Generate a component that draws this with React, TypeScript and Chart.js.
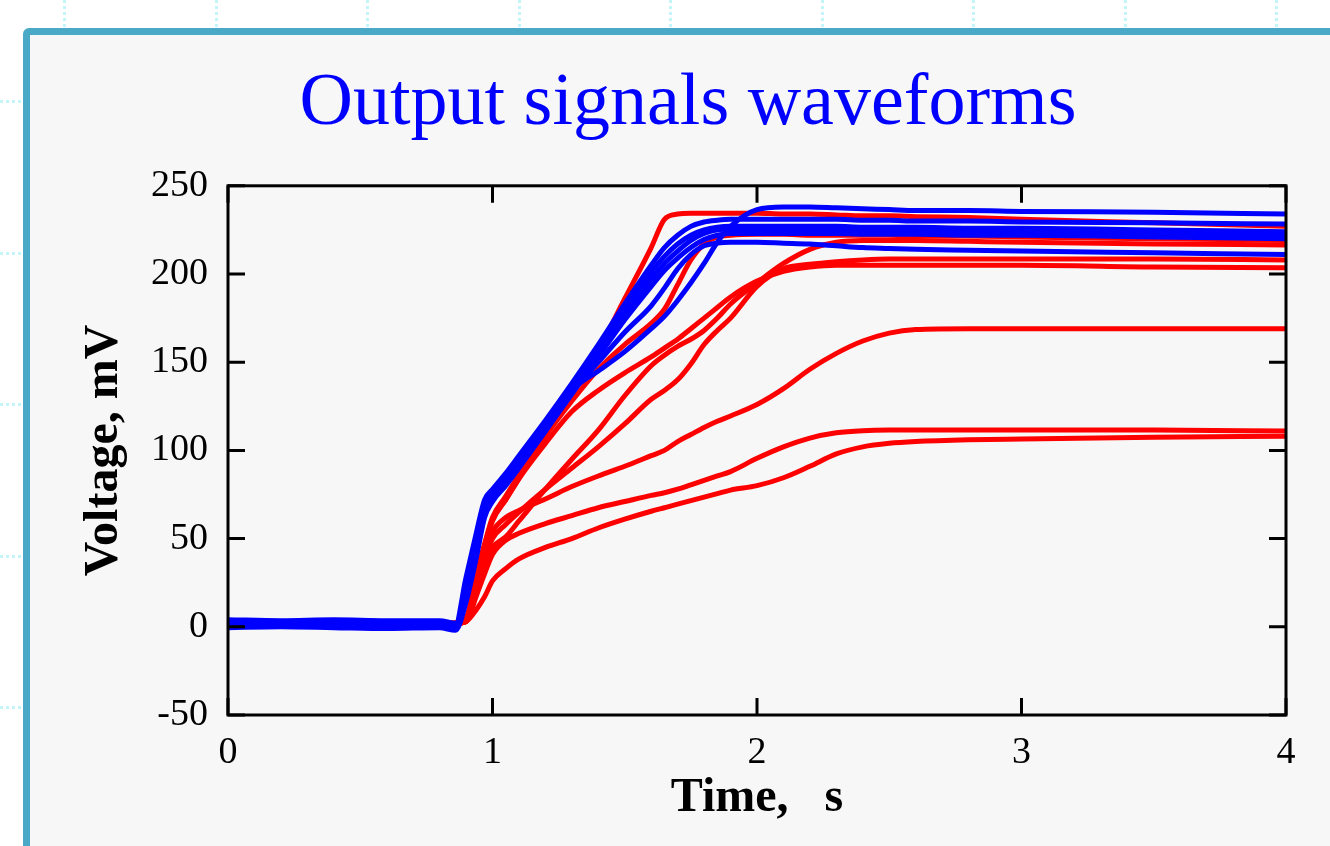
import React, { useEffect, useRef } from 'react';
import { Chart, registerables } from 'chart.js';

Chart.register(...registerables);

// ---- data (time in s, voltage in mV) ----
const timeS = [0, 0.2, 0.4, 0.6, 0.8, 0.86, 0.9, 0.94, 0.97, 1.0, 1.05, 1.1, 1.2, 1.3, 1.4, 1.5, 1.6, 1.65, 1.7, 1.75, 1.8, 1.85, 1.9, 2.0, 2.1, 2.2, 2.3, 2.4, 2.5, 2.6, 2.8, 3.0, 3.5, 4.0];

const xTickValues = [0, 1, 2, 3, 4];
const yTickValues = [-50, 0, 50, 100, 150, 200, 250];

// red series
const red1 = [2, 1.5, 2, 1.5, 2, 2, 5, 30, 47, 62, 74, 86, 110, 133, 157, 186, 215, 231, 234, 234.5, 234.5, 234.5, 234.5, 234.5, 234, 234, 233.5, 233, 233, 232.5, 232, 231, 229, 227];
const red2 = [2, 2, 1.5, 2, 1.5, 2, 4, 28, 45, 60, 72, 84, 108, 128, 146, 160, 172, 180, 194, 208, 217, 221, 222, 222.5, 222.5, 222, 222, 222, 222, 221.5, 221.5, 221, 220, 219];
const red3 = [1.5, 2, 2, 1.5, 2, 2, 4, 28, 46, 61, 72, 84, 104, 122, 134, 144, 153, 158, 163, 169, 175, 181, 187, 196, 201.5, 204, 205, 205, 205, 205, 205, 205, 204, 203.5];
const red4 = [2, 1.5, 2, 2, 1.5, 2, 3, 20, 35, 45, 51, 60, 78, 95, 111.5, 131, 148, 154, 159, 163, 168, 175, 183, 195, 206, 214, 218, 219, 219, 219, 218.5, 218, 217, 216.5];
const red5 = [2, 2, 1.5, 2, 2, 2, 3, 22, 38, 50, 58, 65, 78, 90, 102, 115, 129, 134, 140, 149, 160, 168, 175, 193, 203, 205.5, 207, 208, 208.5, 208.5, 208.5, 208.5, 208.5, 208];
const red6 = [1.5, 2, 2, 2, 1.5, 2, 3, 25, 42, 54, 62, 66, 72.5, 79.5, 85.5, 91, 97, 100, 105, 109, 113, 116.5, 119.5, 126, 135, 146, 155, 162, 166.5, 168.5, 169, 169, 169, 169];
const red7 = [2, 1.5, 1.5, 2, 2, 2, 3, 18, 30, 41, 49, 53, 58.5, 63, 67.5, 71, 74.5, 76, 78, 80.5, 83, 85.5, 88, 95.5, 102, 107, 110, 111.2, 111.5, 111.5, 111.5, 111.5, 111.5, 111];
const red8 = [2, 2, 2, 1.5, 2, 2, 3, 10, 17, 26, 33, 38.5, 45, 50, 56, 61, 65.5, 67.5, 69.5, 71.5, 73.5, 75.5, 77.5, 80, 84.5, 91, 98, 102, 104, 105, 106, 106.5, 107.5, 108];

// blue series
const blue1 = [4, 3.5, 4, 3.5, 3.5, 2, 28, 54, 72, 78, 87, 97, 117, 138, 160, 183, 205, 215, 222, 227, 229.5, 230.5, 231, 231, 231, 231, 231, 230.5, 230.5, 230, 230, 229.5, 229, 228.3];
const blue2 = [1, 1.5, 0.5, 1, 0.5, -1, 19, 45, 66, 74, 83, 93, 114, 135, 157, 180, 201, 210, 217, 222, 225, 226.5, 227, 227, 227, 227, 227, 226.5, 226.5, 226.5, 226, 226, 225, 224];
const blue3 = [2.5, 2, 2.5, 2, 2, 0, 22, 48, 68, 75, 84, 94, 115, 134, 155, 177, 197, 206, 213, 219, 223, 225, 225.5, 225.5, 225.5, 225, 225, 225, 225, 224.5, 224.5, 224, 223, 222];
const blue4 = [-0.5, 0, -0.5, -1, -0.5, -2, 14, 40, 62, 71, 80, 90, 111, 132, 153, 174, 193, 202, 209, 215, 219.5, 222, 223, 223, 223, 223, 223, 222.5, 222.5, 222.5, 222, 222, 221, 220];
const blue5 = [3, 2.5, 3, 2.5, 2, 0.5, 24, 50, 69, 75, 82, 91, 111, 134, 145, 156, 169, 176, 185, 195, 206, 218, 227, 236.5, 238, 238, 237.5, 237, 236.5, 236, 236, 235.5, 235, 234];
const blue6 = [1.5, 1, 1.5, 1, 1.5, -0.5, 18, 44, 65, 73, 82, 92, 112, 133, 150, 167, 182, 192, 203, 211, 216, 217.5, 218, 218, 217.5, 217, 216, 215, 214.5, 214, 213.5, 213, 212, 211];

const blueSeries = [blue1, blue2, blue3, blue4, blue5, blue6];
const redSeries = [red1, red2, red3, red4, red5, red6, red7, red8];

const titleText = 'Output signals waveforms';
const xTitle = 'Time,   s';
const yTitle = 'Voltage, mV';

const SERIF = "'Liberation Serif', 'DejaVu Serif', serif";

const toPoints = (vals: number[]) => timeS.map((t, i) => ({ x: t, y: vals[i] }));

const frameTicks = {
  id: 'frameTicks',
  afterDatasetsDraw(chart: any) {
    const { ctx, chartArea } = chart;
    const { left, right, top, bottom } = chartArea;
    const xs = chart.scales.x;
    const ys = chart.scales.y;
    const L = 17;
    ctx.save();
    ctx.strokeStyle = '#000';
    ctx.lineWidth = 3;
    ctx.lineCap = 'butt';
    ctx.beginPath();
    xs.ticks.forEach((t: any) => {
      const px = xs.getPixelForValue(t.value);
      ctx.moveTo(px, bottom);
      ctx.lineTo(px, bottom - L);
      ctx.moveTo(px, top);
      ctx.lineTo(px, top + L);
    });
    ys.ticks.forEach((t: any) => {
      const py = ys.getPixelForValue(t.value);
      ctx.moveTo(left, py);
      ctx.lineTo(left + L, py);
      ctx.moveTo(right, py);
      ctx.lineTo(right - L, py);
    });
    ctx.stroke();
    ctx.strokeRect(left, top, right - left, bottom - top);
    ctx.restore();
  },
};

export default function App() {
  const ref = useRef<HTMLCanvasElement | null>(null);

  useEffect(() => {
    if (!ref.current) return;
    const datasets: any[] = [];
    const common = {
      borderWidth: 5,
      pointRadius: 0,
      cubicInterpolationMode: 'monotone',
      borderCapStyle: 'round',
      borderJoinStyle: 'round',
      fill: false,
    };
    blueSeries.forEach((s, i) =>
      datasets.push({ ...common, label: 'blue' + (i + 1), data: toPoints(s), borderColor: '#0000ff' })
    );
    redSeries.forEach((s, i) =>
      datasets.push({ ...common, label: 'red' + (i + 1), data: toPoints(s), borderColor: '#ff0000' })
    );

    const chart = new Chart(ref.current, {
      type: 'line',
      data: { datasets },
      plugins: [frameTicks],
      options: {
        responsive: false,
        animation: false,
        events: [],
        layout: { padding: { left: 90, right: 44, top: 0, bottom: 0 } },
        plugins: {
          legend: { display: false },
          tooltip: { enabled: false },
          title: {
            display: true,
            text: titleText,
            color: '#0000ff',
            font: { family: SERIF, size: 74, weight: 'normal', lineHeight: 1.2 },
            padding: { top: 60, bottom: 37 },
          },
        },
        scales: {
          x: {
            type: 'linear',
            min: 0,
            max: 4,
            afterBuildTicks: (s: any) => {
              s.ticks = xTickValues.map((v) => ({ value: v }));
            },
            afterFit: (s: any) => {
              s.height = 131;
            },
            grid: { display: false, drawTicks: false },
            border: { display: false },
            ticks: {
              color: '#000',
              font: { family: SERIF, size: 38, lineHeight: 1.2 },
              padding: 15,
              maxRotation: 0,
              autoSkip: false,
            },
            title: {
              display: true,
              text: xTitle,
              color: '#000',
              font: { family: SERIF, size: 48, weight: 'bold', lineHeight: 1.2 },
              padding: { top: 0, bottom: 19 },
            },
          },
          y: {
            type: 'linear',
            min: -50,
            max: 250,
            afterBuildTicks: (s: any) => {
              s.ticks = yTickValues.map((v) => ({ value: v }));
            },
            afterFit: (s: any) => {
              s.width = 138;
            },
            grid: { display: false, drawTicks: false },
            border: { display: false },
            ticks: {
              color: '#000',
              font: { family: SERIF, size: 38, lineHeight: 1.2 },
              padding: 20,
              autoSkip: false,
            },
            title: {
              display: true,
              text: yTitle,
              color: '#000',
              font: { family: SERIF, size: 48, weight: 'bold', lineHeight: 0.625 },
              padding: { top: 0, bottom: 0 },
            },
          },
        },
      } as any,
    });
    return () => chart.destroy();
  }, []);

  const vLines = [64, 215.5, 367, 518.5, 670, 821.5, 973, 1124.5, 1276];
  const hLines = [101, 252.5, 404, 555.5, 707];

  return (
    <div style={{ position: 'fixed', left: 0, top: 0, width: 1330, height: 846, overflow: 'hidden', background: '#ffffff' }}>
      {vLines.map((x) => (
        <div
          key={'v' + x}
          style={{
            position: 'absolute',
            left: x - 1,
            top: 0,
            width: 3,
            height: 846,
            background: 'repeating-linear-gradient(to bottom, #c4f6f9 0px, #c4f6f9 3px, transparent 3px, transparent 6px)',
          }}
        />
      ))}
      {hLines.map((y) => (
        <div
          key={'h' + y}
          style={{
            position: 'absolute',
            left: 0,
            top: y - 1,
            width: 1330,
            height: 3,
            background: 'repeating-linear-gradient(to right, #c4f6f9 0px, #c4f6f9 3px, transparent 3px, transparent 6px)',
          }}
        />
      ))}
      <div
        style={{
          position: 'absolute',
          left: 23,
          top: 28,
          width: 1400,
          height: 900,
          boxSizing: 'border-box',
          border: '7px solid #4aa9c6',
          borderRadius: 6,
          background: '#f7f7f7',
        }}
      />
      <canvas ref={ref} width={1330} height={846} style={{ position: 'absolute', left: 0, top: 0, width: 1330, height: 846 }} />
    </div>
  );
}
